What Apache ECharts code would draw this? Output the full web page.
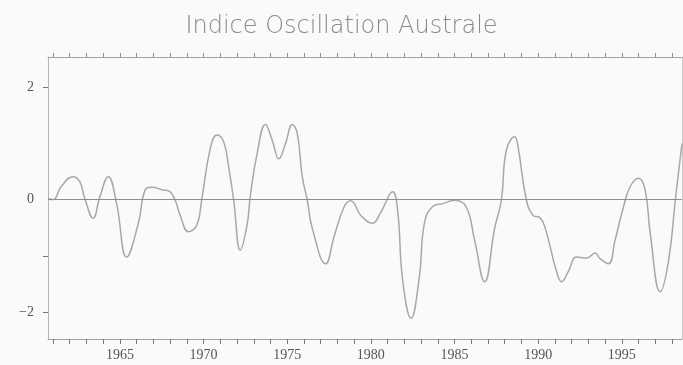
<!DOCTYPE html>
<html>
<head>
<meta charset="utf-8">
<script src="https://cdn.jsdelivr.net/npm/echarts@6/dist/echarts.min.js"></script>
<style>
html,body{margin:0;padding:0;background:#fafafa;}
#c{width:683px;height:365px;}
</style>
</head>
<body>
<div id="c"></div>
<script>
const title = "Indice Oscillation Australe";
const years = [1960.7,1961.0,1961.5,1962.2,1962.6,1962.9,1963.4,1963.8,1964.3,1964.8,1965.4,1966.1,1966.5,1966.9,1967.6,1967.9,1968.3,1968.6,1969.1,1969.6,1969.9,1970.4,1970.8,1971.2,1971.5,1971.8,1972.2,1972.6,1972.8,1973.2,1973.7,1974.1,1974.5,1974.9,1975.3,1975.6,1975.9,1976.2,1976.5,1977.3,1977.8,1978.4,1978.8,1979.4,1980.1,1980.6,1981.3,1981.6,1981.9,1982.4,1982.9,1983.2,1983.7,1984.3,1985.0,1985.7,1986.2,1986.8,1987.4,1987.8,1988.1,1988.6,1988.8,1989.3,1989.7,1990.1,1990.4,1991.1,1991.4,1991.8,1992.3,1992.9,1993.4,1993.7,1994.2,1994.6,1995.1,1995.5,1996.0,1996.4,1996.7,1997.3,1997.8,1998.2,1998.6];
const soi =   [0.02,0.0,0.24,0.41,0.32,0.02,-0.33,0.05,0.41,-0.07,-1.02,-0.42,0.17,0.22,0.17,0.16,-0.01,-0.28,-0.57,-0.45,0.02,0.91,1.15,1.03,0.58,-0.01,-0.90,-0.45,0.08,0.82,1.34,1.06,0.73,1.0,1.34,1.18,0.41,-0.01,-0.51,-1.14,-0.66,-0.13,-0.02,-0.28,-0.42,-0.22,0.14,-0.19,-1.43,-2.11,-1.37,-0.42,-0.12,-0.07,-0.01,-0.13,-0.72,-1.46,-0.51,-0.01,0.88,1.12,0.94,-0.01,-0.28,-0.32,-0.48,-1.28,-1.46,-1.28,-1.02,-1.04,-0.95,-1.05,-1.14,-0.72,-0.13,0.23,0.38,0.17,-0.6,-1.64,-1.08,-0.01,1.0];
const xLabels = [1965,1970,1975,1980,1985,1990,1995];
const xMinorTicks = [1961,1962,1963,1964,1965,1966,1967,1968,1969,1970,1971,1972,1973,1974,1975,1976,1977,1978,1979,1980,1981,1982,1983,1984,1985,1986,1987,1988,1989,1990,1991,1992,1993,1994,1995,1996,1997,1998];
const yLabels = [-2,0,2];
const yTicks = [-2,-1,2];

const chart = echarts.init(document.getElementById('c'), null, {renderer:'canvas'});
const axisGray = '#a0a0a0';
chart.setOption({
  backgroundColor:'#fafafa',
  animation:false,
  title:{text:title,left:'center',top:10,
    textStyle:{fontFamily:'DejaVu Sans',fontSize:24,fontWeight:'lighter',color:'#8a8a8a'}},
  grid:{left:48,right:1,top:57,bottom:26,containLabel:false},
  xAxis:[{
    type:'value',min:1960.7,max:1998.6,position:'bottom',
    axisLine:{show:true,onZero:false,lineStyle:{color:axisGray,width:1}},
    axisTick:{show:true,customValues:xMinorTicks,length:5,lineStyle:{color:'#7a7a7a'}},
    axisLabel:{customValues:xLabels,fontFamily:'Liberation Serif',fontSize:14,color:'#555',margin:9,
      formatter:v=>String(v)},
    splitLine:{show:false}
  },{
    type:'value',min:1960.7,max:1998.6,position:'top',
    axisLine:{show:true,onZero:false,lineStyle:{color:axisGray,width:1}},
    axisTick:{show:true,inside:false,customValues:xMinorTicks,length:4,lineStyle:{color:'#8a8a8a'}},
    axisLabel:{show:false},
    splitLine:{show:false}
  }],
  yAxis:[{
    type:'value',min:-2.48,max:2.54,position:'left',
    axisLine:{show:true,onZero:false,lineStyle:{color:'#b5b5b5',width:1}},
    axisTick:{show:true,customValues:yTicks,length:5,lineStyle:{color:'#777'}},
    axisLabel:{customValues:yLabels,fontFamily:'Liberation Serif',fontSize:14,color:'#555',margin:14,
      formatter:v=>v<0?'\u2212'+(-v):String(v)},
    splitLine:{show:false}
  },{
    type:'value',min:-2.48,max:2.54,position:'right',
    axisLine:{show:true,onZero:false,lineStyle:{color:'#c8c8c8',width:1}},
    axisTick:{show:false},axisLabel:{show:false},splitLine:{show:false}
  }],
  series:[{
    type:'line',
    data:years.map((y,i)=>[y,soi[i]]),
    smooth:0.45,
    showSymbol:false,
    lineStyle:{color:'#a8a8a8',width:1.5},
    markLine:{silent:true,symbol:['none','none'],label:{show:false},
      lineStyle:{color:'#8f8f8f',type:'solid',width:1},
      data:[{yAxis:0}]}
  }]
});
</script>
</body>
</html>
